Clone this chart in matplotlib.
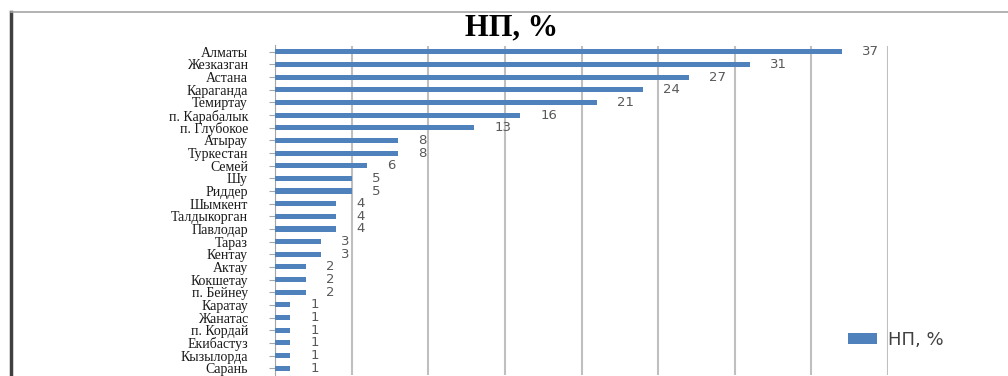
import matplotlib
matplotlib.use("Agg")
import matplotlib.pyplot as plt
from matplotlib.lines import Line2D

categories = ["Алматы", "Жезказган", "Астана", "Караганда", "Темиртау",
              "п. Карабалык", "п. Глубокое", "Атырау", "Туркестан", "Семей",
              "Шу", "Риддер", "Шымкент", "Талдыкорган", "Павлодар", "Тараз",
              "Кентау", "Актау", "Кокшетау", "п. Бейнеу", "Каратау", "Жанатас",
              "п. Кордай", "Екибастуз", "Кызылорда", "Сарань"]
values = [37, 31, 27, 24, 21, 16, 13, 8, 8, 6, 5, 5, 4, 4, 4, 3, 3, 2, 2, 2,
          1, 1, 1, 1, 1, 1]
series_name = "НП, %"
title = "НП, %"
xticks = [0, 5, 10, 15, 20, 25, 30, 35, 40]

fig = plt.figure(figsize=(10.08, 3.76), dpi=100)
ax = fig.add_axes([275/1008, 1-374.5/376, (888-275)/1008, (374.5-45.5)/376])

y = list(range(len(categories)))
ax.barh(y, values, height=0.4, color="#4f81bd", label=series_name, zorder=3)
ax.set_ylim(len(categories)-0.5, -0.5)
ax.set_xlim(0, 40)
ax.set_xticks(xticks)
ax.xaxis.grid(True, color="#bfbfbf", linewidth=1.5, zorder=0)
ax.tick_params(axis="x", bottom=False, labelbottom=False)
ax.set_yticks(y)
ax.set_yticklabels(categories, fontfamily="Liberation Serif", fontsize=10,
                   color="#1a1a1a")
ax.tick_params(axis="y", length=4, color="#a6a6a6", pad=15.5)
for s in ["top", "right", "bottom"]:
    ax.spines[s].set_visible(False)
ax.spines["left"].set_color("#a6a6a6")

for yi, v in zip(y, values):
    ax.annotate(str(v), (v, yi), xytext=(14.5, 0), textcoords="offset points",
                ha="left", va="center", fontsize=9.5, color="#595959",
                fontfamily="DejaVu Sans")

fig.text(512/1008, 1-28/376, title, ha="center", va="center",
         fontfamily="Liberation Serif", fontweight="bold", fontsize=22,
         color="black")

leg = fig.legend(loc="center left", bbox_to_anchor=(832/1008, 1-340/376),
                 frameon=False, fontsize=13, handlelength=1.6, handleheight=0.5,
                 handletextpad=0.6)
for t in leg.get_texts():
    t.set_color("#404040")

# outer frame lines
fig.add_artist(Line2D([11/1008, 11/1008], [0, 1-12/376], color="#404040",
                      linewidth=2.5, transform=fig.transFigure))
fig.add_artist(Line2D([11/1008, 1], [1-12/376, 1-12/376], color="#a6a6a6",
                      linewidth=1.2, transform=fig.transFigure))

fig.savefig("out.png", dpi=100)
